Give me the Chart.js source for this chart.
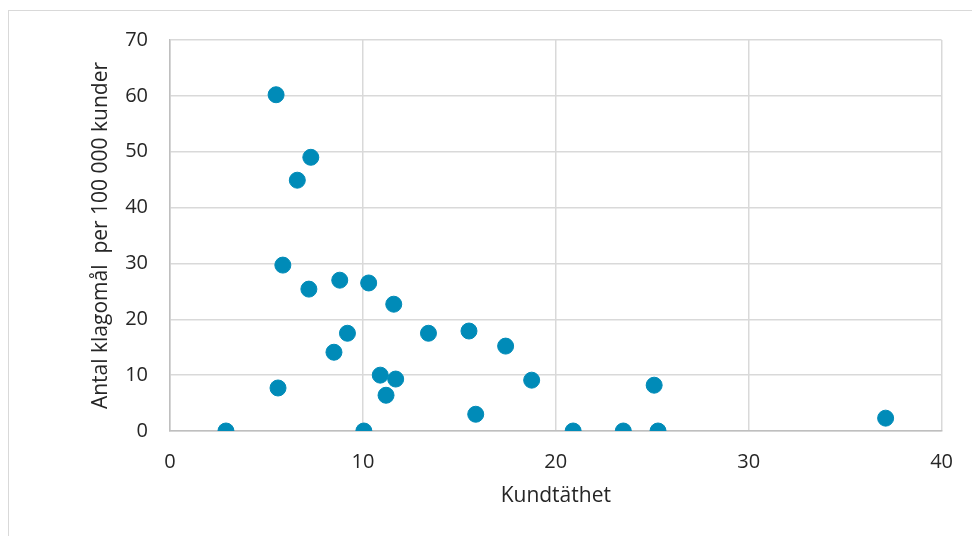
<!DOCTYPE html>
<html>
<head>
<meta charset="utf-8">
<script src="https://cdn.jsdelivr.net/npm/chart.js@4/dist/chart.umd.min.js"></script>
<style>
  body { margin: 0; background: #fff; }
  #frame { position: absolute; left: 8px; top: 10px; width: 980px; height: 540px; border: 1px solid #d9d9d9; }
  #wrap { position: absolute; left: 0; top: 0; width: 972px; height: 536px; }
</style>
</head>
<body>
<div id="frame"></div>
<div id="wrap"><canvas id="myChart"></canvas></div>
<script>
const density = [2.9, 5.5, 7.3, 6.6, 5.85, 7.2, 8.8, 10.3, 11.6, 9.2, 8.5, 5.6, 10.9, 11.7, 11.2, 10.05, 13.4, 15.5, 17.4, 15.85, 18.75, 20.9, 23.5, 25.3, 25.1, 37.1];
const complaints = [0, 60.2, 49.0, 44.9, 29.7, 25.4, 27.0, 26.5, 22.7, 17.5, 14.1, 7.7, 10.0, 9.3, 6.4, 0, 17.5, 17.9, 15.2, 3.0, 9.1, 0, 0, 0, 8.2, 2.3];
const xTitle = "Kundtäthet";
const yTitle = "Antal klagomål  per 100 000 kunder";

const points = density.map((x, i) => ({ x: x, y: complaints[i] }));
const family = "'Open Sans', 'Liberation Sans', sans-serif";

new Chart(document.getElementById("myChart"), {
  type: "scatter",
  data: {
    datasets: [{
      data: points,
      backgroundColor: "#008bb8",
      borderColor: "#008bb8",
      pointRadius: 8,
      pointHoverRadius: 8
    }]
  },
  options: {
    responsive: true,
    maintainAspectRatio: false,
    animation: false,
    layout: { padding: { top: 40, right: 30, left: 88, bottom: 27 } },
    plugins: { legend: { display: false }, tooltip: { enabled: false } },
    scales: {
      x: {
        min: 0, max: 40,
        ticks: { stepSize: 10, color: "#262626", font: { family: family, size: 20 }, padding: 19 },
        grid: { color: "#d9d9d9", lineWidth: 1.5, drawTicks: false },
        border: { color: "#bfbfbf", width: 1.5 },
        title: { display: true, text: xTitle, color: "#262626", font: { family: family, size: 21 }, padding: 0 },
        afterFit: (s) => { s.height = 78; }
      },
      y: {
        min: 0, max: 70,
        ticks: { stepSize: 10, color: "#262626", font: { family: family, size: 20 }, padding: 22 },
        grid: { color: "#d9d9d9", lineWidth: 1.5, drawTicks: false },
        border: { color: "#bfbfbf", width: 1.5 },
        title: { display: true, text: yTitle, color: "#262626", font: { family: family, size: 21 }, padding: 0 },
        afterFit: (s) => { s.width = 82; }
      }
    }
  }
});
</script>
</body>
</html>
